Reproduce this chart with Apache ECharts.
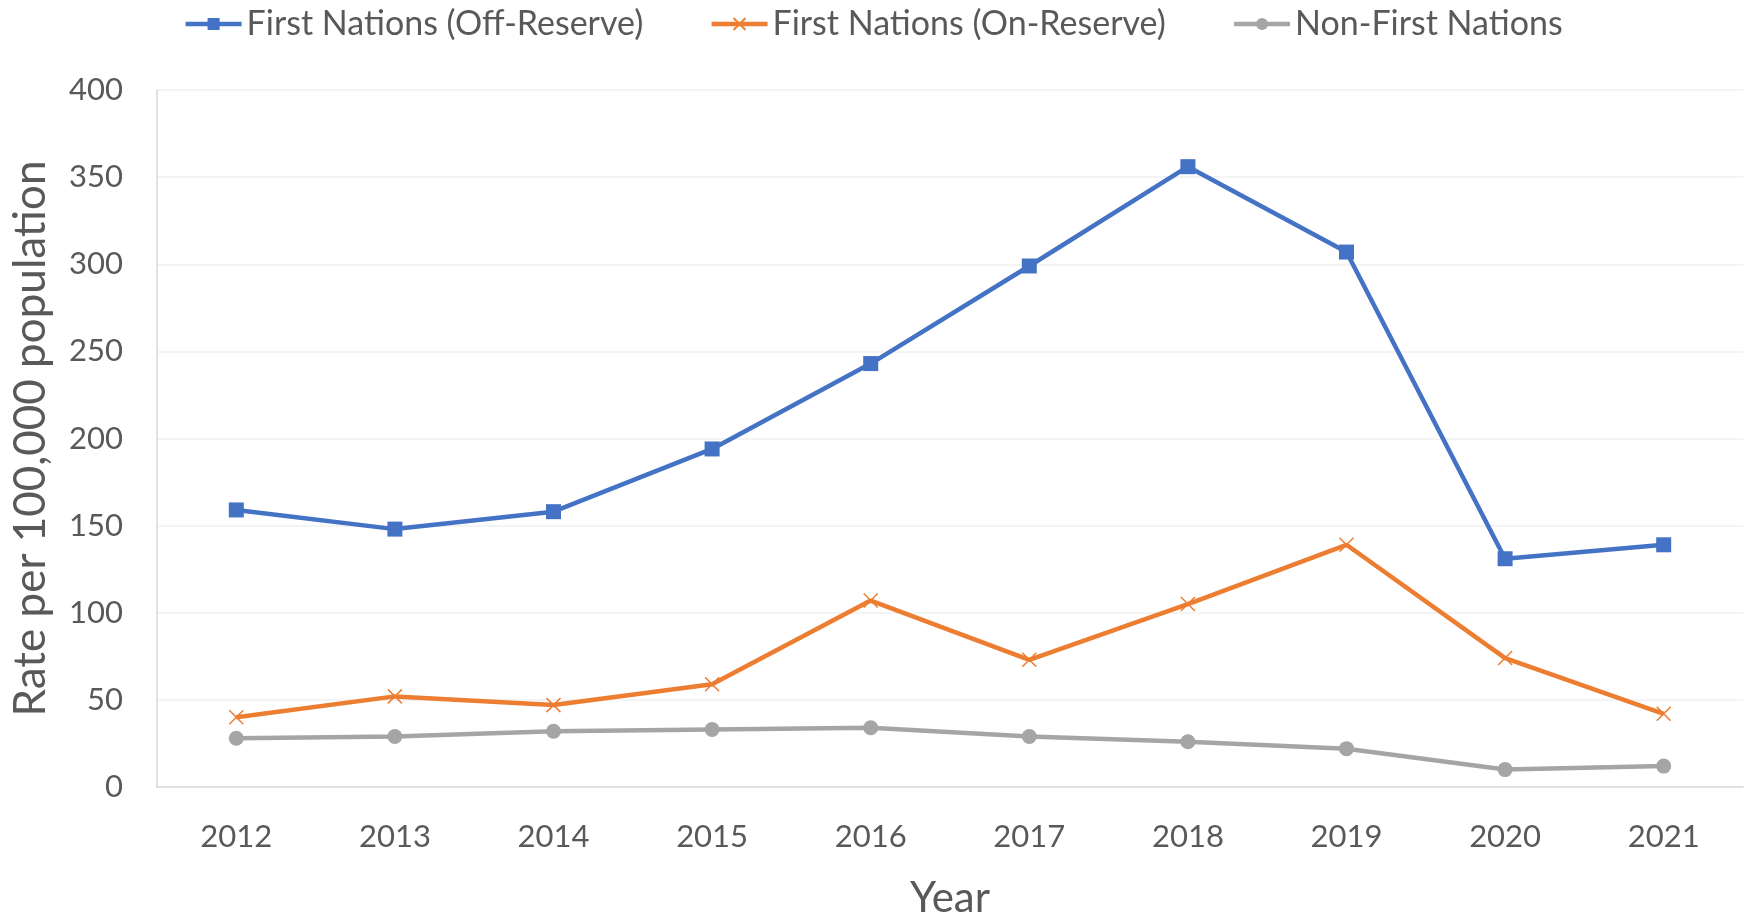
<!DOCTYPE html>
<html>
<head>
<meta charset="utf-8">
<script src="https://cdn.jsdelivr.net/npm/echarts@6/dist/echarts.min.js"></script>
<style>
  html, body { margin: 0; padding: 0; background: #fff; }
  #chart { width: 1746px; height: 916px; }
</style>
</head>
<body>
<div id="chart"></div>
<script>
// data
var years = ['2012', '2013', '2014', '2015', '2016', '2017', '2018', '2019', '2020', '2021'];
var offReserve = [159, 148, 158, 194, 243, 299, 356, 307, 131, 139];
var onReserve = [40, 52, 47, 59, 107, 73, 105, 139, 74, 42];
var nonFirstNations = [28, 29, 32, 33, 34, 29, 26, 22, 10, 12];

var font = 'Lato';
var textColor = '#595959';

var chart = echarts.init(document.getElementById('chart'));

chart.setOption({
    animation: false
    , textStyle: { fontFamily: font }
    , legend: {
        top: 2
        , left: 'center'
        , itemWidth: 56
        , itemHeight: 15
        , itemGap: 66
        , lineStyle: { width: 4.5 }
        , textStyle: { fontSize: 34, color: textColor, fontFamily: font }
        , data: ['First Nations (Off-Reserve)', 'First Nations (On-Reserve)', 'Non-First Nations']
    }
    , grid: {
        left: 157
        , right: 3
        , top: 90
        , bottom: 129
        , outerBoundsMode: 'none'
    }
    , xAxis: {
        type: 'category'
        , data: years
        , name: 'Year'
        , nameLocation: 'middle'
        , nameGap: 90
        , nameTextStyle: { fontSize: 42, color: textColor }
        , axisLine: { lineStyle: { color: '#D9D9D9', width: 1.5 } }
        , axisTick: { show: false }
        , axisLabel: { fontSize: 31, color: textColor, margin: 34 }
    }
    , yAxis: {
        type: 'value'
        , min: 0
        , max: 400
        , interval: 50
        , name: 'Rate per 100,000 population'
        , nameLocation: 'middle'
        , nameGap: 104
        , nameTextStyle: { fontSize: 44, color: textColor }
        , axisLine: { show: true, lineStyle: { color: '#D9D9D9', width: 1.5 } }
        , axisLabel: { fontSize: 31, color: textColor, margin: 34 }
        , splitLine: { lineStyle: { color: '#F0F0F0', width: 1.5 } }
    }
    , series: [
        {
            name: 'First Nations (Off-Reserve)'
            , type: 'line'
            , data: offReserve
            , symbol: 'rect'
            , symbolSize: 15
            , color: '#4472C4'
            , lineStyle: { width: 4.5 }
        }
        , {
            name: 'First Nations (On-Reserve)'
            , type: 'line'
            , data: onReserve
            , symbol: 'path://M0,0L10,10M10,0L0,10'
            , symbolSize: 14
            , color: '#ED7D31'
            , itemStyle: { borderColor: '#ED7D31', borderWidth: 1.5 }
            , lineStyle: { width: 4.5 }
        }
        , {
            name: 'Non-First Nations'
            , type: 'line'
            , data: nonFirstNations
            , symbol: 'circle'
            , symbolSize: 15
            , color: '#A5A5A5'
            , lineStyle: { width: 4.5 }
        }
    ]
});
</script>
</body>
</html>
